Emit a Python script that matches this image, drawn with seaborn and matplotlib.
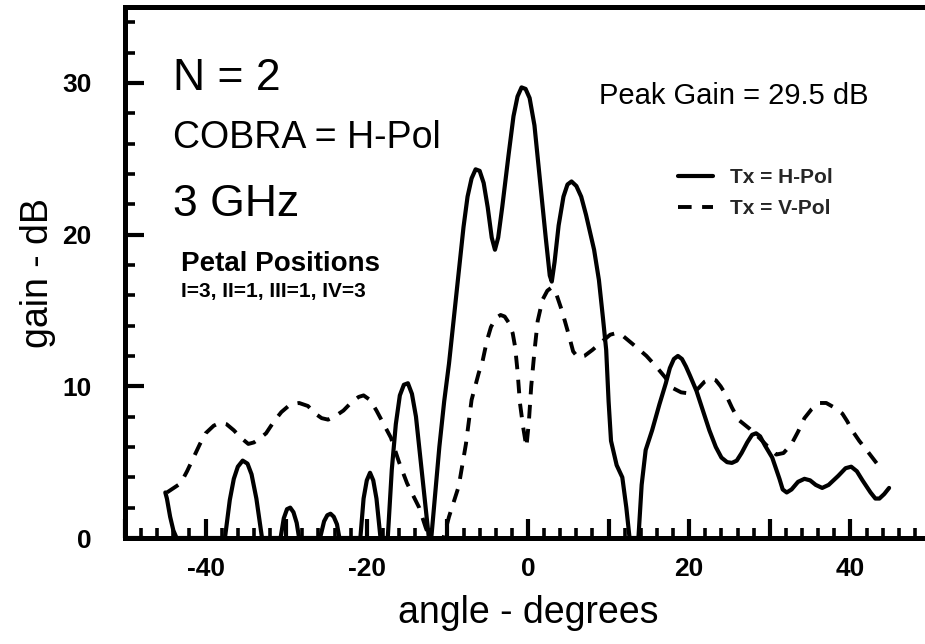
import pandas as pd
import matplotlib
matplotlib.use("Agg")
import matplotlib.pyplot as plt
import seaborn as sns
from matplotlib.ticker import MultipleLocator, FuncFormatter

# Tx = H-Pol (solid), gain in dB vs angle in degrees
h_angle = [-45.0, -44.8, -44.4, -44.0, -43.6,
           -37.6, -37.0, -36.5, -36.0, -35.4, -34.8, -34.3, -33.7, -33.0,
           -30.7, -30.3, -29.9, -29.5, -29.1, -28.7, -28.4,
           -25.8, -25.3, -24.9, -24.5, -24.1, -23.7, -23.4,
           -20.8, -20.4, -20.0, -19.6, -19.2, -18.8, -18.3,
           -17.4, -16.9, -16.4, -15.9, -15.4, -14.9, -14.4, -13.9, -13.3, -12.7, -12.3,
           -12.0, -11.0, -10.4, -9.8, -8.8, -8.0, -7.5, -7.0, -6.5, -6.0, -5.5,
           -5.0, -4.5, -4.1, -3.7, -3.2, -2.4, -1.8, -1.3, -0.8, -0.3, 0.2, 0.8,
           1.5, 2.2, 2.7, 2.95, 3.3, 3.8, 4.4, 4.9, 5.4, 6.0, 6.6, 7.2, 8.2, 8.8,
           9.3, 9.7, 10.0, 10.3, 11.0, 11.7, 12.2, 12.6,
           13.7, 14.1, 14.6, 15.4, 16.3, 17.1, 17.6, 18.1, 18.6, 19.1, 19.6, 20.1,
           20.9, 21.7, 22.5, 23.3, 24.0, 24.7, 25.3, 25.9, 26.5, 27.2, 27.8, 28.3,
           28.8, 29.4, 30.3, 31.2, 31.6, 32.1, 32.7, 33.5, 34.3, 35.0, 35.7, 36.5,
           37.3, 38.5, 39.4, 40.1, 40.8, 41.5, 42.5, 43.1, 43.6, 44.2, 44.8]
h_gain = [3.0, 2.6, 1.4, 0.5, 0.0,
          0.0, 2.5, 3.9, 4.7, 5.1, 4.9, 4.2, 2.6, 0.0,
          0.0, 1.3, 1.9, 2.0, 1.7, 1.0, 0.0,
          0.0, 1.1, 1.5, 1.6, 1.4, 0.9, 0.0,
          0.0, 2.6, 3.8, 4.3, 3.8, 2.6, 0.0,
          0.0, 4.5, 7.5, 9.4, 10.1, 10.2, 9.5, 8.0, 5.0, 2.0, 0.0,
          0.0, 6.0, 9.0, 11.5, 16.5, 20.5, 22.5, 23.7, 24.3, 24.2, 23.4,
          21.8, 19.8, 19.0, 19.8, 21.8, 25.3, 27.8, 29.1, 29.7, 29.6, 29.0, 27.2,
          23.5, 19.8, 17.3, 16.9, 18.2, 20.6, 22.5, 23.3, 23.5, 23.2, 22.5, 21.3, 19.0, 17.0,
          14.5, 12.4, 9.0, 6.4, 4.8, 4.0, 2.0, 0.0,
          0.0, 3.5, 5.8, 7.1, 8.8, 10.2, 11.2, 11.8, 12.0, 11.8, 11.3, 10.7,
          9.7, 8.4, 7.1, 6.0, 5.3, 5.0, 4.95, 5.1, 5.6, 6.3, 6.8, 6.9,
          6.7, 6.1, 5.3, 3.9, 3.2, 3.0, 3.2, 3.7, 3.9, 3.8, 3.5, 3.3,
          3.5, 4.1, 4.6, 4.7, 4.4, 3.8, 3.0, 2.6, 2.6, 2.9, 3.3]

# Tx = V-Pol (dashed)
v_angle = [-44.8, -43.1, -42.3, -41.5, -40.7, -40.0, -39.0, -38.2, -37.4, -36.5,
           -35.6, -34.7, -34.0, -33.2, -32.5, -31.5, -30.6, -29.5, -28.4, -27.3,
           -26.4, -25.6, -24.8, -24.0, -22.9, -21.8, -21.0, -20.4, -19.6, -18.8,
           -17.9, -17.0, -16.0, -15.0, -13.5, -12.7, -12.2, -10.5, -9.8, -8.6,
           -7.7, -7.0, -6.1, -5.7, -5.1, -4.6, -4.0, -3.4, -2.9, -2.4, -1.9, -1.6,
           -1.3, -1.0, -0.6, -0.2, 0.1, 0.4, 0.8, 1.2, 1.8, 2.4, 2.9, 3.5, 4.2,
           5.0, 5.6, 6.2, 7.0, 8.0, 9.3, 10.2, 10.9, 11.6, 12.5, 13.4, 14.7, 15.9,
           17.0, 17.9, 19.0, 20.4, 21.2, 21.9, 22.7, 23.3, 23.9, 24.6, 25.3, 26.1,
           27.5, 28.7, 29.8, 30.8, 31.7, 32.7, 33.5, 34.3, 35.2, 36.1, 37.0, 38.0,
           39.0, 39.6, 40.2, 41.1, 42.0, 43.3, 44.5]
v_gain = [3.0, 3.6, 4.4, 5.3, 6.2, 6.9, 7.4, 7.6, 7.5, 7.1,
          6.6, 6.2, 6.3, 6.6, 6.9, 7.7, 8.3, 8.8, 8.9, 8.7,
          8.2, 7.9, 7.8, 8.0, 8.4, 9.0, 9.3, 9.4, 9.1, 8.4,
          7.5, 6.6, 5.0, 3.6, 2.0, 0.7, 0.0, 0.0, 1.4, 3.4,
          6.2, 9.1, 10.9, 11.5, 13.0, 13.9, 14.5, 14.7, 14.6, 14.2, 13.5, 12.6,
          11.0, 8.9, 7.3, 6.0, 7.6, 10.0, 12.3, 14.3, 15.7, 16.3, 16.5, 16.1, 15.0,
          13.5, 12.3, 11.9, 12.0, 12.4, 13.0, 13.4, 13.5, 13.4, 13.0, 12.6, 12.0, 11.3,
          10.6, 9.9, 9.6, 9.5, 9.9, 10.3, 10.5, 10.4, 10.0, 9.4, 8.6, 7.8,
          7.2, 6.6, 6.0, 5.5, 5.6, 6.2, 7.0, 7.9, 8.5, 8.9, 8.9, 8.6,
          8.2, 7.7, 7.1, 6.4, 5.8, 4.9, 4.8]

x_tick_labels = ["-40", "-20", "0", "20", "40"]
y_tick_labels = ["0", "10", "20", "30"]

sns.set_theme(style="ticks")
plt.rcParams["font.family"] = ["Liberation Sans", "DejaVu Sans"]

h_df = pd.DataFrame({"angle": h_angle, "gain": h_gain})
v_df = pd.DataFrame({"angle": v_angle, "gain": v_gain})

fig = plt.figure(figsize=(9.25, 6.44), dpi=100)
ax = fig.add_axes([125 / 925, 1 - 538 / 644, 806 / 925, 531 / 644])

sns.lineplot(data=h_df, x="angle", y="gain", sort=False, estimator=None,
             color="black", lw=3.0, label="Tx = H-Pol", ax=ax)
sns.lineplot(data=v_df, x="angle", y="gain", sort=False, estimator=None,
             color="black", lw=2.8, linestyle=(0, (3.5, 2.7)),
             label="Tx = V-Pol", ax=ax)
for ln in ax.get_lines():
    ln.set_solid_joinstyle("round")
    ln.set_solid_capstyle("round")

ax.set_xlim(-50, 50)
ax.set_ylim(0, 35)

# ticks: inward, long majors, short minors
ax.xaxis.set_major_locator(MultipleLocator(10))
ax.xaxis.set_minor_locator(MultipleLocator(2))
ax.yaxis.set_major_locator(MultipleLocator(10))
ax.yaxis.set_minor_locator(MultipleLocator(2))
xlab = dict(zip([-40, -20, 0, 20, 40], x_tick_labels))
ylab = dict(zip([0, 10, 20, 30], y_tick_labels))
ax.xaxis.set_major_formatter(FuncFormatter(lambda v, p: xlab.get(int(round(v)), "")))
ax.yaxis.set_major_formatter(FuncFormatter(lambda v, p: ylab.get(int(round(v)), "")))
ax.tick_params(which="major", direction="in", length=14, width=3.0,
               color="black", labelsize=19, labelcolor="black")
ax.tick_params(which="minor", direction="in", length=7, width=2.6, color="black")
ax.tick_params(axis="x", which="major", pad=14)
ax.tick_params(axis="y", which="major", pad=24)
for t in ax.get_xticklabels() + ax.get_yticklabels():
    t.set_fontweight("bold")

for side in ["left", "bottom", "top"]:
    ax.spines[side].set_linewidth(3.6)
    ax.spines[side].set_color("black")
ax.spines["right"].set_visible(False)

ax.set_xlabel("angle - degrees", fontsize=27, color="black")
ax.set_ylabel("gain - dB", fontsize=27, color="black")
ax.xaxis.set_label_coords(0.5, -0.108)
ax.yaxis.set_label_coords(-0.085, 0.5)

# annotations
ax.text(-44.0, 29.5, "N = 2", fontsize=32, color="black")
ax.text(-44.0, 25.7, "COBRA = H-Pol", fontsize=27, color="black")
ax.text(-44.0, 21.25, "3 GHz", fontsize=32, color="black")
ax.text(-43.0, 17.6, "Petal Positions", fontsize=20, fontweight="bold", color="black")
ax.text(-43.1, 15.9, "I=3, II=1, III=1, IV=3", fontsize=15, fontweight="bold", color="black")
ax.text(8.8, 28.6, "Peak Gain = 29.5 dB", fontsize=21, color="black")

leg = ax.legend(loc="upper left", bbox_to_anchor=((678 - 125) / 806, (538 - 168) / 531),
                frameon=False, borderpad=0, borderaxespad=0, handlelength=1.7,
                handletextpad=0.8, labelspacing=0.6,
                prop={"size": 15, "weight": "bold"})

fig.savefig("out.png", dpi=100)
